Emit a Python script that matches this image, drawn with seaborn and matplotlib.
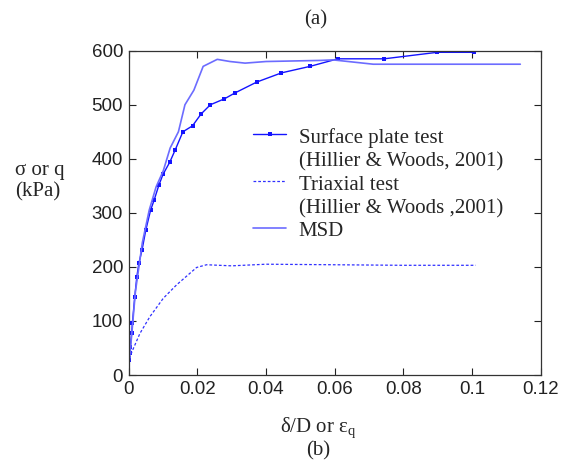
import numpy as np
import pandas as pd
import seaborn as sns
import matplotlib
matplotlib.use('Agg')
import matplotlib.pyplot as plt
from matplotlib.lines import Line2D

# Surface plate test (Hillier & Woods, 2001)
plate_x = [0.0002, 0.0003, 0.0005, 0.0009, 0.0011, 0.0018, 0.0024, 0.0030, 0.0039, 0.0050,
           0.0064, 0.0074, 0.0088, 0.0100, 0.0120, 0.0136, 0.0158, 0.0186, 0.0211, 0.0238,
           0.0279, 0.0310, 0.0373, 0.0445, 0.0528, 0.0609, 0.0744, 0.0898, 0.1004]
plate_y = [28, 40, 52, 78, 96, 145, 182, 207, 231, 268,
           305, 323, 351, 371, 394, 417, 450, 461, 483, 500,
           511, 522, 542, 559, 571, 585, 585, 597, 597]

# Triaxial test (Hillier & Woods, 2001)
tri_x = [0.0003, 0.0009, 0.0033, 0.0062, 0.0101, 0.0140, 0.0198, 0.0227, 0.0300, 0.0400,
         0.0600, 0.0800, 0.1010]
tri_y = [30, 42, 77, 108, 142, 167, 199, 204, 202, 205, 204, 203, 203]

# MSD
msd_x = [0.0, 0.0005, 0.0020, 0.0040, 0.0060, 0.0080, 0.0101, 0.0121, 0.0145, 0.0164,
         0.0190, 0.0217, 0.0258, 0.0295, 0.0339, 0.0400, 0.0557, 0.0595, 0.0712, 0.1140]
msd_y = [15, 45, 155, 245, 305, 348, 378, 420, 450, 500,
         527, 571, 584, 580, 577, 580, 582, 583, 575, 575]

legend_labels = ['Surface plate test', '(Hillier & Woods, 2001)', 'Triaxial test',
                 '(Hillier & Woods ,2001)', 'MSD']

sns.set_style('ticks')
plt.rcParams['font.family'] = ['Liberation Sans', 'DejaVu Sans']
serif = ['Liberation Serif', 'DejaVu Serif']

fig = plt.figure(figsize=(5.67, 4.63), dpi=100)
ax = fig.add_axes([0.2268, 0.190, 0.7272, 0.7005])

c_plate = '#1414ff'
c_tri = '#3030ff'
c_msd = '#6c6cff'
dash = (0, (2.2, 1.6))

sns.lineplot(x=plate_x, y=plate_y, ax=ax, sort=False, estimator=None, color=c_plate,
             lw=1.0, marker='s', markersize=2.6, markeredgewidth=0)
sns.lineplot(x=tri_x, y=tri_y, ax=ax, sort=False, estimator=None, color=c_tri,
             lw=0.9, linestyle=dash)
sns.lineplot(x=msd_x, y=msd_y, ax=ax, sort=False, estimator=None, color=c_msd, lw=1.2)

ax.set_xlim(0, 0.12)
ax.set_ylim(0, 600)
ax.set_xticks(np.arange(0, 0.121, 0.02))
ax.set_xticklabels(['0', '0.02', '0.04', '0.06', '0.08', '0.1', '0.12'])
ax.set_yticks(np.arange(0, 601, 100))
ax.tick_params(direction='in', top=True, right=True, labelsize=13.5, length=5,
               width=0.8, colors='#222222', pad=4)
for s in ax.spines.values():
    s.set_visible(True)
    s.set_linewidth(0.9)
    s.set_color('#333333')

handles = [Line2D([], [], color=c_plate, lw=1.0, marker='s', markersize=2.6, markeredgewidth=0),
           Line2D([], [], color='none'),
           Line2D([], [], color=c_tri, lw=0.9, linestyle=dash),
           Line2D([], [], color='none'),
           Line2D([], [], color=c_msd, lw=1.2)]
ax.legend(handles, legend_labels, loc='upper left', bbox_to_anchor=(0.302, 0.768),
          frameon=False, prop={'family': serif, 'size': 15}, handlelength=1.6,
          handletextpad=0.58, handleheight=1.1, labelspacing=0.06, borderpad=0,
          borderaxespad=0)

fig.text(0.0265, 0.608, 'σ or q\n(kPa)', family=serif, fontsize=15, ha='left', va='center',
         linespacing=1.15)
fig.text(0.561, 0.074, 'δ/D or ε$_\\mathregular{q}$', family=serif, fontsize=15,
         ha='center', va='center')
fig.text(0.561, 0.027, '(b)', family=serif, fontsize=15, ha='center', va='center')
fig.text(0.556, 0.957, '(a)', family=serif, fontsize=15, ha='center', va='center')

fig.savefig('out.png', dpi=100, facecolor='white')
